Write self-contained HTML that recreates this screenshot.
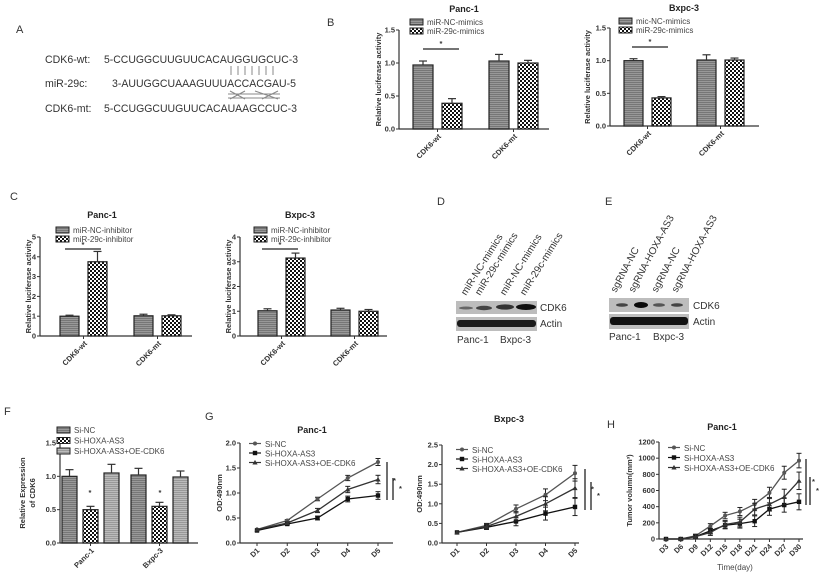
<!DOCTYPE html>
<html><head><meta charset="utf-8"><style>
html,body{margin:0;padding:0;background:#fff}
svg{display:block;font-family:"Liberation Sans",Arial,sans-serif}
.ax{font-size:7.5px;font-weight:bold;fill:#333}
.tt{font-size:9px;font-weight:bold;fill:#222}
.lg{font-size:8px;fill:#444}
.pl{font-size:11px;fill:#333}
.seq{font-size:10.6px;fill:#333}
.bl{font-size:10px;fill:#333}
</style></head><body>
<svg id="fig" width="824" height="575" viewBox="0 0 824 575" xmlns="http://www.w3.org/2000/svg">
<defs>
<pattern id="hstripe" width="4" height="2" patternUnits="userSpaceOnUse"><rect width="4" height="2" fill="#999"/><rect width="4" height="1" fill="#777"/></pattern>
<pattern id="hstripe2" width="4" height="2" patternUnits="userSpaceOnUse"><rect width="4" height="2" fill="#bbb"/><rect width="4" height="1" fill="#999"/></pattern>
<pattern id="check" width="4" height="4" patternUnits="userSpaceOnUse"><rect width="4" height="4" fill="#fff"/><rect width="2" height="2" fill="#111"/><rect x="2" y="2" width="2" height="2" fill="#111"/></pattern>
</defs>

<!-- Panel A -->
<text class="pl" x="16" y="33">A</text>
<g>
<text class="seq" x="45" y="63">CDK6-wt:</text>
<text class="seq" x="104" y="63" textLength="194" lengthAdjust="spacingAndGlyphs">5-CCUGGCUUGUUCACAUGGUGCUC-3</text>
<text class="seq" x="45" y="87">miR-29c:</text>
<text class="seq" x="112" y="87" textLength="184" lengthAdjust="spacingAndGlyphs">3-AUUGGCUAAAGUUUACCACGAU-5</text>
<text class="seq" x="45" y="112">CDK6-mt:</text>
<text class="seq" x="104" y="112" textLength="193" lengthAdjust="spacingAndGlyphs">5-CCUGGCUUGUUCACAUAAGCCUC-3</text>
<g stroke="#888" stroke-width="1">
<line x1="231" y1="66" x2="231" y2="75"/><line x1="238" y1="66" x2="238" y2="75"/><line x1="245" y1="66" x2="245" y2="75"/><line x1="252" y1="66" x2="252" y2="75"/><line x1="259" y1="66" x2="259" y2="75"/><line x1="266" y1="66" x2="266" y2="75"/><line x1="273" y1="66" x2="273" y2="75"/>
<line x1="228" y1="94" x2="280" y2="94"/><line x1="228" y1="98" x2="280" y2="98"/>
<line x1="230" y1="91" x2="245" y2="99"/><line x1="245" y1="91" x2="230" y2="99"/><line x1="255" y1="91" x2="278" y2="99"/><line x1="278" y1="91" x2="262" y2="99"/>
</g>
</g>
<text class="pl" x="327" y="26">B</text>
<text class="pl" x="10" y="200">C</text>
<text class="pl" x="437" y="205">D</text>
<text class="pl" x="605" y="205">E</text>
<text class="pl" x="4" y="415">F</text>
<text class="pl" x="205" y="420">G</text>
<text class="pl" x="607" y="428">H</text>

<!-- Panel D blot -->
<g>
<rect x="456" y="301" width="81" height="13" fill="#bdbdbd"/>
<rect x="456" y="317" width="81" height="14" fill="#bdbdbd"/>
<ellipse cx="466" cy="308" rx="7" ry="1.5" fill="#666"/>
<ellipse cx="484" cy="308" rx="8" ry="2.2" fill="#444"/>
<ellipse cx="505" cy="307" rx="9" ry="2.6" fill="#333"/>
<ellipse cx="526" cy="307" rx="10" ry="3" fill="#111"/>
<rect x="457" y="320" width="79" height="7" rx="3" fill="#1a1a1a"/>
<text class="bl" x="540" y="311">CDK6</text>
<text class="bl" x="540" y="327">Actin</text>
<text class="bl" x="457" y="343">Panc-1</text>
<text class="bl" x="500" y="343">Bxpc-3</text>
<text class="bl" transform="translate(466,296) rotate(-58)">miR-NC-mimics</text>
<text class="bl" transform="translate(480,296) rotate(-58)">miR-29c-mimics</text>
<text class="bl" transform="translate(505,296) rotate(-58)">miR-NC-mimics</text>
<text class="bl" transform="translate(525,296) rotate(-58)">miR-29c-mimics</text>
</g>
<!-- Panel E blot -->
<g>
<rect x="609" y="298" width="80" height="14" fill="#bdbdbd"/>
<rect x="609" y="314" width="80" height="15" fill="#bdbdbd"/>
<ellipse cx="622" cy="305" rx="6" ry="1.8" fill="#444"/>
<ellipse cx="641" cy="305" rx="7" ry="3" fill="#0a0a0a"/>
<ellipse cx="659" cy="305" rx="6" ry="1.8" fill="#555"/>
<ellipse cx="677" cy="305" rx="6" ry="1.8" fill="#444"/>
<rect x="610" y="317" width="78" height="8" rx="3" fill="#111"/>
<text class="bl" x="693" y="309">CDK6</text>
<text class="bl" x="693" y="325">Actin</text>
<text class="bl" x="609" y="340">Panc-1</text>
<text class="bl" x="653" y="340">Bxpc-3</text>
<text class="bl" transform="translate(616,293) rotate(-62)">sgRNA-NC</text>
<text class="bl" transform="translate(634,293) rotate(-62)">sgRNA-HOXA-AS3</text>
<text class="bl" transform="translate(657,293) rotate(-62)">sgRNA-NC</text>
<text class="bl" transform="translate(677,293) rotate(-62)">sgRNA-HOXA-AS3</text>
</g>
<g id="charts"></g>
</svg>
<script>
// ---- Data ----
const groupCats = ["CDK6-wt","CDK6-mt"];
const bPancNC = [0.97, 1.03];
const bPancMim = [0.39, 1.0];
const bPancNCerr = [0.06, 0.1];
const bPancMimErr = [0.07, 0.04];
const bBxNC = [1.0, 1.01];
const bBxMim = [0.43, 1.01];
const bBxNCerr = [0.03, 0.08];
const bBxMimErr = [0.02, 0.03];
const cPancNC = [1.0, 1.02];
const cPancInh = [3.75, 1.02];
const cPancNCerr = [0.05, 0.08];
const cPancInhErr = [0.52, 0.05];
const cBxNC = [1.02, 1.05];
const cBxInh = [3.15, 1.0];
const cBxNCerr = [0.08, 0.07];
const cBxInhErr = [0.2, 0.07];
const fCats = ["Panc-1","Bxpc-3"];
const fNC = [1.0, 1.02];
const fSi = [0.5, 0.55];
const fOE = [1.05, 0.99];
const fNCerr = [0.1, 0.1];
const fSiErr = [0.05, 0.06];
const fOEerr = [0.13, 0.09];
const dayCats = ["D1","D2","D3","D4","D5"];
const gPancNC = [0.27, 0.45, 0.88, 1.3, 1.62];
const gPancSi = [0.25, 0.38, 0.5, 0.88, 0.95];
const gPancOE = [0.27, 0.4, 0.65, 1.07, 1.27];
const gBxNC = [0.27, 0.45, 0.87, 1.23, 1.78];
const gBxSi = [0.27, 0.4, 0.55, 0.75, 0.92];
const gBxOE = [0.27, 0.42, 0.68, 1.0, 1.4];
const hDays = ["D3","D6","D9","D12","D15","D18","D21","D24","D27","D30"];
const hNC = [0, 0, 40, 160, 290, 340, 430, 570, 820, 970];
const hSi = [0, 0, 30, 100, 170, 190, 220, 370, 420, 460];
const hOE = [0, 0, 30, 80, 180, 210, 370, 430, 520, 720];
const yTicks15 = ["0.0","0.5","1.0","1.5"];
const yTicks5 = ["0","1","2","3","4","5"];
const yTicks4 = ["0","1","2","3","4"];
const yTicks20 = ["0.0","0.5","1.0","1.5","2.0"];
const yTicks25 = ["0.0","0.5","1.0","1.5","2.0","2.5"];
const yTicksH = ["0","200","400","600","800","1000","1200"];

const NS="http://www.w3.org/2000/svg";
const root=document.getElementById('charts');
function mk(tag,attrs,parent,txt){const e=document.createElementNS(NS,tag);for(const k in attrs)e.setAttribute(k,attrs[k]);if(txt!==undefined)e.textContent=txt;(parent||root).appendChild(e);return e;}

function axes(g,c,ticks){
  const ymax=parseFloat(ticks[ticks.length-1]);
  const y=v=>c.y0-(v/ymax)*(c.y0-c.y1);
  mk('line',{x1:c.x0,y1:c.y0,x2:c.x0,y2:c.y1,stroke:'#333','stroke-width':1.2},g);
  mk('line',{x1:c.x0,y1:c.y0,x2:c.x2,y2:c.y0,stroke:'#333','stroke-width':1.2},g);
  ticks.forEach(t=>{const v=parseFloat(t);const yy=y(v);
    mk('line',{x1:c.x0-3,y1:yy,x2:c.x0,y2:yy,stroke:'#333'},g);
    mk('text',{class:'ax',x:c.x0-4,y:yy+2.5,'text-anchor':'end'},g,t);});
  const yt=mk('text',{class:'ax',transform:`translate(${c.ytx},${(c.y0+c.y1)/2}) rotate(-90)`,'text-anchor':'middle'},g,c.ytitle);
  
  
  const tt=mk('text',{class:'tt',x:c.tx,y:c.ty,'text-anchor':'middle'},g,c.title);
  
  
  return y;
}
function errbar(g,x,ytop,yerr,w){
  mk('line',{x1:x,y1:ytop,x2:x,y2:yerr,stroke:'#333','stroke-width':1.2},g);
  mk('line',{x1:x-w,y1:yerr,x2:x+w,y2:yerr,stroke:'#333','stroke-width':1.2},g);
}
function barChart(c,ticks,cats,series,errs,fills,legend){
  const g=mk('g',{});
  
  
  const y=axes(g,c,ticks);
  const n=series.length;
  cats.forEach((cat,i)=>{
    const gx=c.gx[i];
    series.forEach((s,j)=>{
      const x=gx+j*(c.bw+c.gap);
      const top=y(s[i]);
      const r=mk('rect',{x:x,y:top,width:c.bw,height:c.y0-top,fill:fills[j],stroke:'#222','stroke-width':1.2},g);
      
      
      errbar(g,x+c.bw/2,top,y(s[i]+errs[j][i]),4);
    });
    const cx=gx+(n*c.bw+(n-1)*c.gap)/2;
    mk('line',{x1:cx,y1:c.y0,x2:cx,y2:c.y0+3,stroke:'#333'},g);
    const lb=mk('text',{class:'ax',transform:`translate(${cx+4},${c.y0+8}) rotate(-45)`,'text-anchor':'end'},g,cat);
    
    
  });
  legend.forEach((l,j)=>{
    const ly=c.ly+j*c.lstep;
    mk('rect',{x:c.lx,y:ly-5,width:13,height:6,fill:fills[j],stroke:'#222','stroke-width':1},g);
    const t=mk('text',{class:'lg',x:c.lx+17,y:ly+1},g,l);
    
    
  });
  return {g,y};
}
function lineChart(c,ticks,cats,series,legend,markers){
  const g=mk('g',{});
  
  
  const y=axes(g,c,ticks);
  const x=i=>c.xa+i*(c.xb-c.xa)/(cats.length-1);
  cats.forEach((cat,i)=>{
    mk('line',{x1:x(i),y1:c.y0,x2:x(i),y2:c.y0+3,stroke:'#333'},g);
    const lb=mk('text',{class:'ax',transform:`translate(${x(i)+3},${c.y0+8}) rotate(-45)`,'text-anchor':'end'},g,cat);
    
    
  });
  const cols=['#555','#111','#333'];
  series.forEach((s,j)=>{
    const pts=s.map((v,i)=>x(i)+','+y(v)).join(' ');
    const pl=mk('polyline',{points:pts,fill:'none',stroke:cols[j],'stroke-width':1.3},g);
    
    
    s.forEach((v,i)=>{
      const er=c.err?c.err*(i/(s.length-1))*(1+j*0.1):0;
      if(er>0){mk('line',{x1:x(i),y1:y(v+er),x2:x(i),y2:y(v-er),stroke:'#222'},g);
        mk('line',{x1:x(i)-2.5,y1:y(v+er),x2:x(i)+2.5,y2:y(v+er),stroke:'#222'},g);
        mk('line',{x1:x(i)-2.5,y1:y(v-er),x2:x(i)+2.5,y2:y(v-er),stroke:'#222'},g);}
      drawMarker(g,markers[j],x(i),y(v),cols[j]);
    });
  });
  legend.forEach((l,j)=>{
    const ly=c.ly+j*c.lstep;
    mk('line',{x1:c.lx,y1:ly-2.5,x2:c.lx+12,y2:ly-2.5,stroke:cols[j],'stroke-width':1.2},g);
    drawMarker(g,markers[j],c.lx+6,ly-2.5,cols[j]);
    const t=mk('text',{class:'lg',x:c.lx+16,y:ly+1},g,l);
    
    
  });
  c.sig.forEach(s=>{mk('line',{x1:s[0],y1:s[1],x2:s[0],y2:s[2],stroke:'#222','stroke-width':1.3},g);
    mk('text',{class:'ax',x:s[0]+6,y:(s[1]+s[2])/2+2},g,'*');});
  return g;
}
function drawMarker(g,m,x,y,col){
  if(m==='c')mk('circle',{cx:x,cy:y,r:2,fill:col},g);
  else if(m==='s')mk('rect',{x:x-2.2,y:y-2.2,width:4.4,height:4.4,fill:col},g);
  else mk('polygon',{points:`${x},${y-2.6} ${x+2.6},${y+2} ${x-2.6},${y+2}`,fill:col},g);
}

// Panel B
const bp=barChart({name:'chart-b-panc1',x0:399,y0:129,y1:30,x2:549,ytx:381,ytitle:'Relative luciferase activity',title:'Panc-1',tx:464,ty:12,gx:[413,489],bw:20,gap:9,lx:410,ly:24,lstep:9},
 yTicks15,groupCats,[bPancNC,bPancMim],[bPancNCerr,bPancMimErr],['url(#hstripe)','url(#check)'],['miR-NC-mimics','miR-29c-mimics']);
mk('line',{x1:423,y1:49,x2:459,y2:49,stroke:'#222','stroke-width':1.2},bp.g);mk('text',{class:'ax',x:441,y:46,'text-anchor':'middle'},bp.g,'*');
const bb=barChart({name:'chart-b-bxpc3',x0:610,y0:126,y1:28,x2:759,ytx:590,ytitle:'Relative luciferase activity',title:'Bxpc-3',tx:684,ty:11,gx:[624,697],bw:19,gap:9,lx:619,ly:23,lstep:9},
 yTicks15,groupCats,[bBxNC,bBxMim],[bBxNCerr,bBxMimErr],['url(#hstripe)','url(#check)'],['mic-NC-mimics','miR-29c-mimics']);
mk('line',{x1:632,y1:47,x2:668,y2:47,stroke:'#222','stroke-width':1.2},bb.g);mk('text',{class:'ax',x:650,y:44,'text-anchor':'middle'},bb.g,'*');
// Panel C
const cp=barChart({name:'chart-c-panc1',x0:40,y0:336,y1:237,x2:192,ytx:31,ytitle:'Relative luciferase activity',title:'Panc-1',tx:102,ty:218,gx:[60,134],bw:19,gap:9,lx:56,ly:232,lstep:9},
 yTicks5,groupCats,[cPancNC,cPancInh],[cPancNCerr,cPancInhErr],['url(#hstripe)','url(#check)'],['miR-NC-inhibitor','miR-29c-inhibitor']);
mk('line',{x1:65,y1:249,x2:101,y2:249,stroke:'#222','stroke-width':1.2},cp.g);mk('text',{class:'ax',x:83,y:247,'text-anchor':'middle'},cp.g,'*');
const cb=barChart({name:'chart-c-bxpc3',x0:240,y0:336,y1:237,x2:387,ytx:231,ytitle:'Relative luciferase activity',title:'Bxpc-3',tx:300,ty:218,gx:[258,331],bw:19,gap:9,lx:254,ly:232,lstep:9},
 yTicks4,groupCats,[cBxNC,cBxInh],[cBxNCerr,cBxInhErr],['url(#hstripe)','url(#check)'],['miR-NC-inhibitor','miR-29c-inhibitor']);
mk('line',{x1:262,y1:249,x2:298,y2:249,stroke:'#222','stroke-width':1.2},cb.g);mk('text',{class:'ax',x:280,y:247,'text-anchor':'middle'},cb.g,'*');
// Panel F
const fp=barChart({name:'chart-f-expression',x0:60,y0:543,y1:443,x2:198,ytx:35,ytitle:'of CDK6',title:'',tx:0,ty:0,gx:[62,131],bw:15,gap:6,lx:57,ly:432,lstep:10.5},
 yTicks15,fCats,[fNC,fSi,fOE],[fNCerr,fSiErr,fOEerr],['url(#hstripe)','url(#check)','url(#hstripe2)'],['Si-NC','Si-HOXA-AS3','Si-HOXA-AS3+OE-CDK6']);
mk('text',{class:'ax',transform:'translate(25,493) rotate(-90)','text-anchor':'middle'},fp.g,'Relative Expression');
mk('text',{class:'ax',x:90,y:495,'text-anchor':'middle'},fp.g,'*');
mk('text',{class:'ax',x:160,y:495,'text-anchor':'middle'},fp.g,'*');
// Panel G
lineChart({name:'chart-g-panc1',x0:240,y0:543,y1:443,x2:393,ytx:222,ytitle:'OD:490nm',title:'Panc-1',tx:312,ty:433,xa:257,xb:378,lx:249,ly:446,lstep:9.5,err:0.07,sig:[[387,462,500],[393,478,500]]},
 yTicks20,dayCats,[gPancNC,gPancSi,gPancOE],['Si-NC','Si-HOXA-AS3','Si-HOXA-AS3+OE-CDK6'],['c','s','t']);
lineChart({name:'chart-g-bxpc3',x0:442,y0:543,y1:445,x2:579,ytx:422,ytitle:'OD:490nm',title:'Bxpc-3',tx:509,ty:422,xa:457,xb:575,lx:456,ly:452,lstep:9.5,err:0.2,sig:[[585,469,510],[591,482,510]]},
 yTicks25,dayCats,[gBxNC,gBxSi,gBxOE],['Si-NC','Si-HOXA-AS3','Si-HOXA-AS3+OE-CDK6'],['c','s','t']);
// Panel H
lineChart({name:'chart-h-tumor',x0:659,y0:539,y1:442,x2:803,ytx:632,ytitle:'Tumor volumn(mm³)',title:'Panc-1',tx:722,ty:430,xa:666,xb:799,lx:668,ly:450,lstep:10,err:90,sig:[[806,459,505],[810,477,505]]},
 yTicksH,hDays,[hNC,hSi,hOE],['Si-NC','Si-HOXA-AS3','Si-HOXA-AS3+OE-CDK6'],['c','s','t']);
const xt=mk('text',{class:'lg',x:735,y:570,'text-anchor':'middle','font-size':'9'},root,'Time(day)');


</script>
</body></html>
